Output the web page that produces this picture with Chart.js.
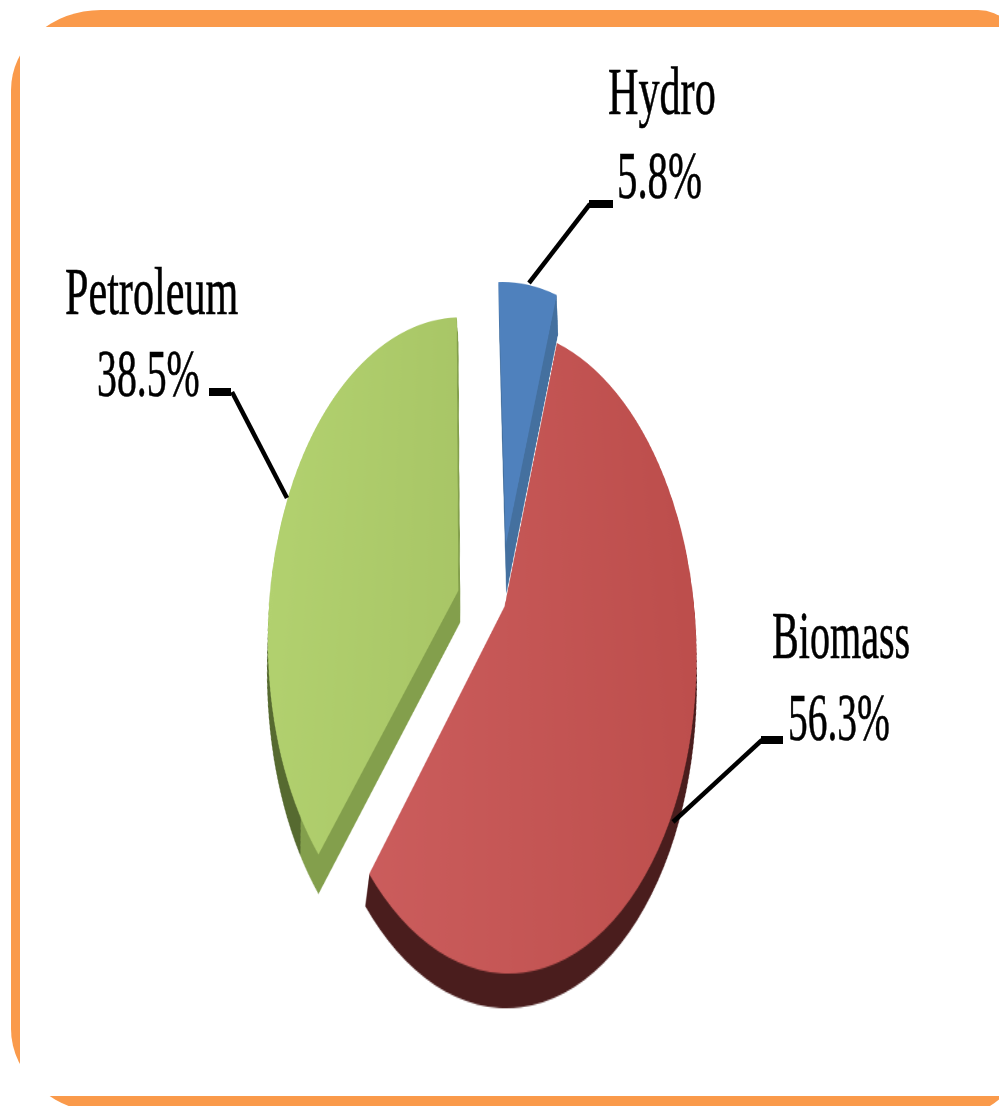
<!DOCTYPE html>
<html>
<head>
<meta charset="utf-8">
<title>Energy sources</title>
<script src="https://cdn.jsdelivr.net/npm/chart.js@4"></script>
<style>
  html, body { margin: 0; padding: 0; background: #fff; }
  #page { position: relative; width: 999px; height: 1106px; overflow: hidden; background: #fff; }
  #frame { position: absolute; left: 11px; top: 10px; width: 1009px; height: 1104px; background: #fa9a4b; border-radius: 90px 42px 60px 100px / 80px 42px 60px 85px; }
  #inner { position: absolute; left: 20px; top: 27px; width: 979px; height: 1069px; background: #fff; }
  #pie { position: absolute; left: 0; top: 0; transform-origin: 0 0; }
  #leaders { position: absolute; left: 0; top: 0; }
  .lbl { position: absolute; font-family: "Liberation Serif", serif; font-size: 68px; line-height: normal; color: #000; -webkit-text-stroke: 0.6px #000; transform-origin: 0 0; white-space: nowrap; }
</style>
</head>
<body>
<div id="page">
  <div id="frame"></div>
  <div id="inner"></div>
  <canvas id="pie" width="800" height="800"></canvas>
  <svg id="leaders" width="999" height="1106"></svg>
</div>
<script>
const categories = ['Hydro', 'Biomass', 'Petroleum'];
const shares = [5.8, 56.3, 38.5];
const shareLabels = ['5.8%', '56.3%', '38.5%'];

const faceStart = ['#4f81bd', '#ce6060', '#b2d16f'];
const faceEnd = ['#4f81bd', '#bd4e4c', '#9fbb5e'];
const wallInner = ['#44709f', '#4a1d1d', '#839f4c'];
const wallOuter = ['#44709f', '#5e2828', '#566a30'];

// each slice is pulled out of the pie by hand, in radius units
const shiftX = [0.14, 0.13, -0.115];
const shiftY = [-0.18, 0.02, -0.03];
const depth = [0.16, 0.08, 0.1];
const wallLean = [0, -0.012, 0.012];
const tipX = [0, 172, 175];

const SIZE = 800, R = 300;
const originX = 480, originY = 600, stretchX = 189, stretchY = 314, tilt = 0.14;

// tilted view of the round pie, done on the canvas element itself
(function () {
  const c = SIZE / 2, g = tilt / R, w0 = 1 + c * g;
  const m = [
    stretchX / R, 0, 0, 0,
    -originX * g, stretchY / R - originY * g, 0, -g,
    0, 0, 1, 0,
    originX * w0 - c * stretchX / R, originY * w0 - c * stretchY / R, 0, w0
  ];
  document.getElementById('pie').style.transform = 'matrix3d(' + m.join(',') + ')';
})();

const canvas = document.getElementById('pie');
const g2d = canvas.getContext('2d');

function hGrad(a, b) {
  const g = g2d.createLinearGradient(100, 0, 700, 0);
  g.addColorStop(0, a);
  g.addColorStop(1, b);
  return g;
}
function hardGrad(a, b, x) {
  const g = g2d.createLinearGradient(0, 0, SIZE, 0);
  g.addColorStop(0, a);
  g.addColorStop(x / SIZE, a);
  g.addColorStop(x / SIZE, b);
  g.addColorStop(1, b);
  return g;
}

const faces = categories.map((_, i) => hGrad(faceStart[i], faceEnd[i]));
const walls = categories.map((_, i) => hardGrad(wallOuter[i], wallInner[i], tipX[i]));

const sliceDraw = {
  id: 'sliceDraw',
  beforeDatasetDraw(chart, args) {
    const ctx = chart.ctx;
    args.meta.data.forEach((arc, i) => {
      const base = arc.options;
      const dx = shiftX[i] * R, dy = shiftY[i] * R;
      arc.options = Object.assign({}, base, { backgroundColor: walls[i] });
      for (let s = 40; s >= 1; s--) {
        ctx.save();
        ctx.translate(dx + wallLean[i] * R * s / 40, dy + depth[i] * R * s / 40);
        arc.draw(ctx);
        ctx.restore();
      }
      arc.options = base;
      ctx.save();
      ctx.translate(dx, dy);
      arc.draw(ctx);
      ctx.restore();
    });
    return false;
  }
};

new Chart(canvas, {
  type: 'pie',
  data: {
    labels: categories,
    datasets: [{ data: shares, backgroundColor: faces, borderWidth: 0, radius: R }]
  },
  options: {
    responsive: false,
    animation: false,
    devicePixelRatio: 2,
    events: [],
    rotation: -1.5,
    layout: { padding: 0 },
    plugins: { legend: { display: false }, tooltip: { enabled: false } }
  },
  plugins: [sliceDraw]
});

// labels
const nameSpots = [[608, 113, 0.62], [772, 657, 0.59], [65, 313, 0.62]];
const shareSpots = [[617, 197, 0.6], [788, 739, 0.58], [97, 395, 0.585]];
const page = document.getElementById('page');
function addLabel(text, spot) {
  const el = document.createElement('div');
  el.className = 'lbl';
  el.textContent = text;
  el.style.left = spot[0] + 'px';
  el.style.top = (spot[1] - 60.6) + 'px';
  el.style.transform = 'scaleX(' + spot[2] + ')';
  page.appendChild(el);
}
categories.forEach((name, i) => {
  addLabel(name, nameSpots[i]);
  addLabel(shareLabels[i], shareSpots[i]);
});

// leader lines: [slice end, elbow, label end]
const leaderPaths = [
  [[529, 283], [590, 204], [613, 204]],
  [[673, 822], [762, 740], [783, 740]],
  [[287, 498], [232, 392], [209, 392]]
];
const svg = document.getElementById('leaders');
leaderPaths.forEach(p => {
  const diag = document.createElementNS('http://www.w3.org/2000/svg', 'line');
  diag.setAttribute('x1', p[0][0]); diag.setAttribute('y1', p[0][1]);
  diag.setAttribute('x2', p[1][0]); diag.setAttribute('y2', p[1][1]);
  diag.setAttribute('stroke', '#000'); diag.setAttribute('stroke-width', 4.5);
  svg.appendChild(diag);
  const flat = document.createElementNS('http://www.w3.org/2000/svg', 'line');
  flat.setAttribute('x1', p[1][0] - 1); flat.setAttribute('y1', p[1][1]);
  flat.setAttribute('x2', p[2][0]); flat.setAttribute('y2', p[2][1]);
  flat.setAttribute('stroke', '#000'); flat.setAttribute('stroke-width', 8);
  svg.appendChild(flat);
});
</script>
</body>
</html>
